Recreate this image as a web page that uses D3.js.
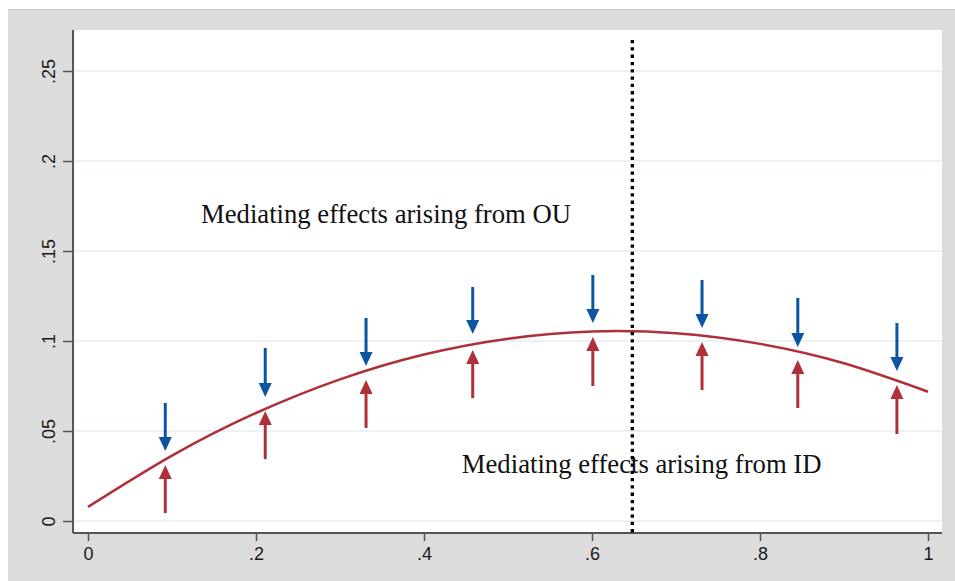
<!DOCTYPE html>
<html>
<head>
<meta charset="utf-8">
<script src="https://cdn.jsdelivr.net/npm/d3@7"></script>
<style>
  body { margin: 0; background: #fff; }
  .note { font-family: "Liberation Serif", "Times New Roman", serif; font-size: 26.7px; fill: #111; }
</style>
</head>
<body>
<div id="chart"></div>
<script>
// fitted curve, read at x = 0, .1, ... 1
const curveX = [0, 0.1, 0.2, 0.3, 0.4, 0.5, 0.6, 0.7, 0.8, 0.9, 1.0];
const curveY = [0.0078, 0.0363, 0.0600, 0.0787, 0.0925, 0.1013, 0.1053, 0.1043, 0.0984, 0.0876, 0.0718];

// arrow pairs
const arrowX    = [0.092, 0.211, 0.331, 0.458, 0.601, 0.731, 0.845, 0.963];
const blueTop   = [0.0656, 0.0961, 0.1128, 0.1300, 0.1367, 0.1339, 0.1239, 0.1100];
const blueTip   = [0.0389, 0.0689, 0.0861, 0.1039, 0.1100, 0.1072, 0.0967, 0.0833];
const redTip    = [0.0311, 0.0611, 0.0783, 0.0950, 0.1022, 0.0994, 0.0894, 0.0756];
const redBottom = [0.0044, 0.0344, 0.0517, 0.0683, 0.0750, 0.0728, 0.0628, 0.0483];

const xTicks = [0, 0.2, 0.4, 0.6, 0.8, 1];
const yTicks = [0, 0.05, 0.1, 0.15, 0.2, 0.25];
const cutoff = 0.648;

const labels = [
  {text: "Mediating effects arising from OU", x: 0.1345, y: 0.1656},
  {text: "Mediating effects arising from ID", x: 0.445, y: 0.0267}
];

const width = 955, height = 581;
const plot = {left: 73, right: 942, top: 30, bottom: 533};

const svg = d3.select("#chart").append("svg")
    .attr("width", width)
    .attr("height", height);

// gray outer region
svg.append("rect")
    .attr("x", 8).attr("y", 9)
    .attr("width", width - 8).attr("height", height - 9)
    .attr("fill", "#dcdcdc");
svg.append("line")
    .attr("x1", 8).attr("x2", width).attr("y1", 9.5).attr("y2", 9.5)
    .attr("stroke", "#c3cccc").attr("stroke-width", 1);

svg.append("rect")
    .attr("x", plot.left).attr("y", plot.top)
    .attr("width", plot.right - plot.left).attr("height", plot.bottom - plot.top)
    .attr("fill", "#fff");

const xScale = d3.scaleLinear().domain([0, 1]).range([88, 928]);
const yScale = d3.scaleLinear().domain([0, 0.25]).range([521, 71]);

function fmt(d) {
  if (d === 0) return "0";
  if (d === 1) return "1";
  return d3.format("~g")(d).replace(/^0/, "");
}

// gridlines
svg.append("g")
  .selectAll("line")
  .data(yTicks)
  .enter().append("line")
    .attr("x1", plot.left).attr("x2", plot.right)
    .attr("y1", d => yScale(d)).attr("y2", d => yScale(d))
    .attr("stroke", "#e4eef0").attr("stroke-width", 1.5);

// axes
const xAxis = svg.append("g")
    .attr("transform", `translate(0,${plot.bottom})`)
    .call(d3.axisBottom(xScale).tickValues(xTicks).tickFormat(fmt).tickSize(8).tickPadding(6));
xAxis.select(".domain").attr("d", `M${plot.left},0H${plot.right}`);

const yAxis = svg.append("g")
    .attr("transform", `translate(${plot.left},0)`)
    .call(d3.axisLeft(yScale).tickValues(yTicks).tickFormat(fmt).tickSize(10));
yAxis.select(".domain").attr("d", `M0,${plot.top}V${plot.bottom}`);
yAxis.selectAll(".tick text")
    .attr("x", 0).attr("dy", null)
    .attr("transform", "translate(-18,0) rotate(-90)")
    .attr("text-anchor", "middle");

svg.selectAll(".tick text")
    .attr("font-family", "Liberation Sans, Arial, sans-serif")
    .style("font-size", "18px")
    .attr("fill", "#1a1a1a");
svg.selectAll(".domain").attr("stroke", "#555").attr("stroke-width", 2);
svg.selectAll(".tick line").attr("stroke", "#555").attr("stroke-width", 1.5);

// fitted curve
const line = d3.line()
    .x((d, i) => xScale(curveX[i]))
    .y(d => yScale(d))
    .curve(d3.curveNatural);

svg.append("path")
    .datum(curveY)
    .attr("d", line)
    .attr("fill", "none")
    .attr("stroke", "#b0303a")
    .attr("stroke-width", 2.5);

// dotted cutoff line
svg.append("line")
    .attr("x1", xScale(cutoff)).attr("x2", xScale(cutoff))
    .attr("y1", 40).attr("y2", plot.bottom)
    .attr("stroke", "#000")
    .attr("stroke-width", 3.3)
    .attr("stroke-dasharray", "3.3 4");

// arrows: shaft + triangular head
function arrow(x, from, to, color) {
  const px = xScale(x), y0 = yScale(from), y1 = yScale(to);
  const dir = y1 > y0 ? 1 : -1;
  const headLen = 14, headHalf = 6.5;
  const g = svg.append("g");
  g.append("line")
      .attr("x1", px).attr("x2", px)
      .attr("y1", y0).attr("y2", y1 - dir * headLen)
      .attr("stroke", color).attr("stroke-width", 3);
  g.append("path")
      .attr("d", `M${px - headHalf},${y1 - dir * headLen}L${px + headHalf},${y1 - dir * headLen}L${px},${y1}Z`)
      .attr("fill", color);
}

arrowX.forEach(function(x, i) {
  arrow(x, blueTop[i], blueTip[i], "#0b55a3");
  arrow(x, redBottom[i], redTip[i], "#b0303a");
});

// annotations
svg.append("g")
  .selectAll("text")
  .data(labels)
  .enter().append("text")
    .attr("class", "note")
    .attr("x", d => xScale(d.x))
    .attr("y", d => yScale(d.y))
    .text(d => d.text);
</script>
</body>
</html>
